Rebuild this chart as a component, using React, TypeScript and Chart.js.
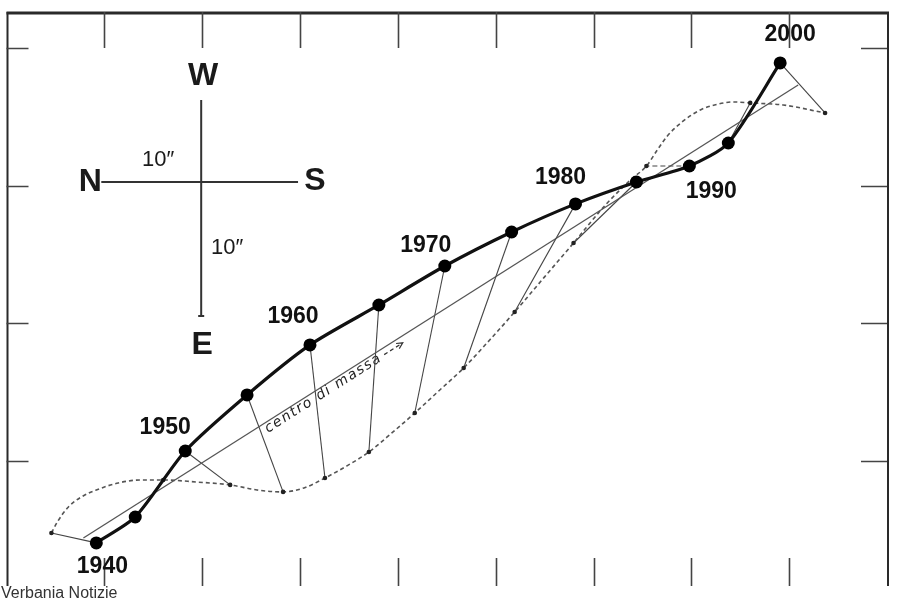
import React, { useEffect, useRef } from "react";
import { Chart, registerables } from "chart.js";

Chart.register(...registerables);

// ---- Data (arc-second units, one frame tick = 10") ----
const years = [1940, 1945, 1950, 1955, 1960, 1965, 1970, 1975, 1980, 1985, 1990, 1995, 2000];
// Sirius A (large dots)
const aX = [9.18, 13.16, 18.27, 24.59, 31.02, 38.06, 44.8, 51.63, 58.16, 64.39, 69.8, 73.78, 79.08];
const aY = [4.07, 5.95, 10.74, 14.81, 18.44, 21.34, 24.17, 26.64, 28.68, 30.27, 31.43, 33.1, 38.91];
// Sirius B (small dots)
const bX = [4.59, 16.02, 22.86, 28.27, 32.55, 37.04, 41.73, 46.73, 51.94, 57.96, 65.41, 76.02, 83.67];
const bY = [4.79, 8.64, 8.28, 7.77, 8.78, 10.67, 13.5, 16.77, 20.83, 25.84, 31.43, 36.01, 35.28];
// Sirius B orbit curve (traced)
const bTraceX = [4.59, 5.2, 6.33, 7.65, 9.18, 11.43, 13.78, 16.02, 19.39, 22.86, 25.61, 28.27, 30.41, 32.55, 34.8, 37.04, 39.39, 41.73, 44.29, 46.73, 49.39, 51.94, 55.0, 57.96, 61.22, 63.78, 65.41, 66.53, 67.55, 69.18, 70.92, 72.76, 74.29, 76.02, 79.39, 83.67];
const bTraceY = [4.79, 5.59, 6.68, 7.4, 7.91, 8.42, 8.64, 8.64, 8.49, 8.28, 7.91, 7.77, 8.06, 8.78, 9.66, 10.67, 12.05, 13.5, 15.17, 16.77, 18.8, 20.83, 23.38, 25.84, 28.6, 30.42, 31.43, 32.6, 33.61, 34.7, 35.5, 35.93, 36.08, 36.01, 35.86, 35.28];
// centre of mass track
const massX = [7.86, 80.92];
const massY = [4.43, 37.31];
const massLabel = "centro di massa";
const massLabelPos = [26.73, 12.05];
// year labels
const yearLabels = ["1940", "1950", "1960", "1970", "1980", "1990", "2000"];
const yearLabelX = [9.8, 16.22, 29.29, 42.86, 56.63, 72.04, 80.1];
const yearLabelY = [2.32, 12.41, 20.47, 25.63, 30.56, 29.55, 40.94];
// compass
const compassCentre = [19.9, 30.27];
const compassNX = 9.69;
const compassSX = 29.8;
const compassWY = 36.22;
const compassEY = 20.54;
const compassLetters = ["W", "N", "S", "E"];
const compassLetterX = [20.1, 8.57, 31.53, 20.0];
const compassLetterY = [37.97, 30.27, 30.34, 18.44];
const scaleLabels = ["10\u2033", "10\u2033"];
const scaleLabelX = [15.51, 22.55];
const scaleLabelY = [31.87, 25.48];
// frame ticks
const xTicks = [10, 20, 30, 40, 50, 60, 70, 80];
const yTicks = [10, 20, 30, 40];
const caption = "Verbania Notizie";

const pts = (xs: number[], ys: number[]) => xs.map((x, i) => ({ x, y: ys[i] }));

export default function App() {
  const ref = useRef<HTMLCanvasElement | null>(null);

  useEffect(() => {
    const canvas = ref.current!;
    const decor = {
      id: "decor",
      beforeDatasetsDraw(chart: any) {
        const { ctx, chartArea } = chart;
        const xs = chart.scales.x;
        const ys = chart.scales.y;
        const { left, right, top, bottom } = chartArea;
        ctx.save();
        ctx.strokeStyle = "#2a2a2a";
        ctx.lineCap = "butt";
        // frame
        ctx.lineWidth = 3;
        ctx.beginPath();
        ctx.moveTo(left, top + 1);
        ctx.lineTo(right + 2, top + 1);
        ctx.stroke();
        ctx.lineWidth = 2;
        ctx.beginPath();
        ctx.moveTo(left + 1, top);
        ctx.lineTo(left + 1, bottom);
        ctx.moveTo(right + 1, top);
        ctx.lineTo(right + 1, bottom);
        ctx.stroke();
        // ticks
        ctx.lineWidth = 1.6;
        ctx.strokeStyle = "#444";
        ctx.beginPath();
        xTicks.forEach((t) => {
          const p = Math.round(xs.getPixelForValue(t)) + 0.5;
          ctx.moveTo(p, top);
          ctx.lineTo(p, top + 36);
          ctx.moveTo(p, bottom);
          ctx.lineTo(p, bottom - 28);
        });
        yTicks.forEach((t) => {
          const p = Math.round(ys.getPixelForValue(t)) + 0.5;
          ctx.moveTo(left, p);
          ctx.lineTo(left + 22, p);
          ctx.moveTo(right, p);
          ctx.lineTo(right - 26, p);
        });
        ctx.stroke();
        // compass
        const cx = xs.getPixelForValue(compassCentre[0]);
        const cy = ys.getPixelForValue(compassCentre[1]);
        ctx.lineWidth = 2;
        ctx.strokeStyle = "#333";
        ctx.beginPath();
        ctx.moveTo(xs.getPixelForValue(compassNX), cy);
        ctx.lineTo(xs.getPixelForValue(compassSX), cy);
        ctx.moveTo(cx, ys.getPixelForValue(compassWY));
        const eY = ys.getPixelForValue(compassEY);
        ctx.lineTo(cx, eY);
        ctx.moveTo(cx - 3, eY);
        ctx.lineTo(cx + 3, eY);
        ctx.stroke();
        ctx.fillStyle = "#1a1a1a";
        ctx.textAlign = "center";
        ctx.textBaseline = "middle";
        ctx.font = 'bold 32px "Liberation Sans Narrow", "Liberation Sans", Arial, sans-serif';
        compassLetters.forEach((l, i) => {
          ctx.fillText(l, xs.getPixelForValue(compassLetterX[i]), ys.getPixelForValue(compassLetterY[i]));
        });
        ctx.font = '22px "Liberation Sans Narrow", "Liberation Sans", Arial, sans-serif';
        scaleLabels.forEach((l, i) => {
          ctx.fillText(l, xs.getPixelForValue(scaleLabelX[i]), ys.getPixelForValue(scaleLabelY[i]));
        });
        // centre-of-mass label
        const x1 = xs.getPixelForValue(massX[0]);
        const y1 = ys.getPixelForValue(massY[0]);
        const x2 = xs.getPixelForValue(massX[1]);
        const y2 = ys.getPixelForValue(massY[1]);
        const ang = Math.atan2(y2 - y1, x2 - x1);
        ctx.translate(xs.getPixelForValue(massLabelPos[0]), ys.getPixelForValue(massLabelPos[1]));
        ctx.rotate(ang);
        ctx.font = 'italic 14px "DejaVu Sans", sans-serif';
        (ctx as any).letterSpacing = "1.6px";
        ctx.textAlign = "left";
        ctx.textBaseline = "alphabetic";
        ctx.fillStyle = "#222";
        ctx.fillText(massLabel, 0, 0);
        const w = ctx.measureText(massLabel).width;
        ctx.setLineDash([4, 3]);
        ctx.lineWidth = 1.2;
        ctx.strokeStyle = "#333";
        ctx.beginPath();
        ctx.moveTo(w + 4, -4);
        ctx.lineTo(w + 24, -4);
        ctx.stroke();
        ctx.setLineDash([]);
        ctx.beginPath();
        ctx.moveTo(w + 20, -7);
        ctx.lineTo(w + 26, -4);
        ctx.lineTo(w + 20, -1);
        ctx.stroke();
        ctx.restore();
      },
      afterDatasetsDraw(chart: any) {
        const { ctx } = chart;
        const xs = chart.scales.x;
        const ys = chart.scales.y;
        ctx.save();
        ctx.fillStyle = "#111";
        ctx.textAlign = "center";
        ctx.textBaseline = "middle";
        ctx.font = 'bold 23px "Liberation Sans", Arial, sans-serif';
        yearLabels.forEach((l, i) => {
          ctx.fillText(l, xs.getPixelForValue(yearLabelX[i]), ys.getPixelForValue(yearLabelY[i]));
        });
        // caption
        ctx.fillStyle = "#fff";
        ctx.fillRect(0, 586, 900, 14);
        ctx.fillStyle = "#333";
        ctx.textAlign = "left";
        ctx.textBaseline = "alphabetic";
        ctx.font = '16px "Liberation Sans Narrow", "Liberation Sans", sans-serif';
        ctx.fillText(caption, 1, 598);
        ctx.restore();
      },
    };

    const linkSets = years.map((yr, i) => ({
      label: "link " + yr,
      data: [
        { x: aX[i], y: aY[i] },
        { x: bX[i], y: bY[i] },
      ],
      showLine: true,
      borderColor: "#444",
      borderWidth: 1.1,
      borderDash: yr === 1990 ? [5, 3] : [],
      pointRadius: 0,
      order: 5,
    }));

    const chart = new Chart(canvas, {
      type: "scatter",
      data: {
        datasets: [
          {
            label: "Sirio A",
            data: pts(aX, aY),
            showLine: true,
            borderColor: "#111",
            borderWidth: 3.2,
            tension: 0.25,
            pointRadius: 6.5,
            pointBackgroundColor: "#000",
            pointBorderColor: "#000",
            pointBorderWidth: 0,
            order: 1,
          },
          {
            label: "Sirio B",
            data: pts(bX, bY),
            showLine: false,
            pointRadius: 2.3,
            pointBackgroundColor: "#222",
            pointBorderWidth: 0,
            order: 2,
          },
          {
            label: "orbita B",
            data: pts(bTraceX, bTraceY),
            showLine: true,
            borderColor: "#555",
            borderWidth: 1.6,
            borderDash: [4, 3],
            cubicInterpolationMode: "monotone",
            pointRadius: 0,
            order: 3,
          },
          {
            label: "centro di massa",
            data: pts(massX, massY),
            showLine: true,
            borderColor: "#555",
            borderWidth: 1.3,
            pointRadius: 0,
            order: 4,
          },
          ...linkSets,
        ],
      },
      options: {
        animation: false,
        responsive: false,
        devicePixelRatio: 1,
        layout: { padding: { left: 5, right: 13, top: 12, bottom: 14 } },
        plugins: { legend: { display: false }, tooltip: { enabled: false } },
        scales: {
          x: { type: "linear", min: 0, max: 90, display: false },
          y: { type: "linear", min: 0.94, max: 42.61, display: false },
        },
      },
      plugins: [decor],
    });
    return () => chart.destroy();
  }, []);

  return (
    <div style={{ position: "fixed", left: 0, top: 0, width: 900, height: 600, background: "#fff" }}>
      <canvas ref={ref} width={900} height={600} style={{ width: 900, height: 600, display: "block" }} />
    </div>
  );
}
